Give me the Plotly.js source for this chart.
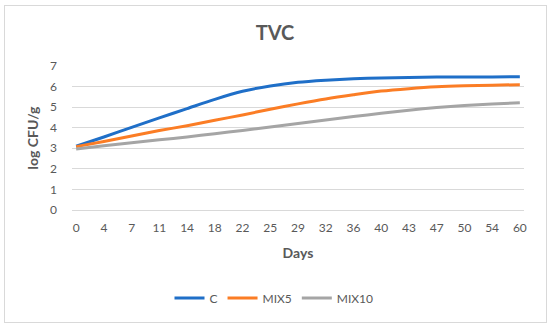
<!DOCTYPE html>
<html>
<head>
<meta charset="utf-8">
<script src="https://cdn.plot.ly/plotly-3.0.1.min.js"></script>
<style>
  html, body { margin: 0; padding: 0; background: #ffffff; }
  #wrap { position: relative; width: 550px; height: 327px; }
  #chart { position: absolute; left: 0; top: 0; width: 550px; height: 327px; }
  #frame { position: absolute; left: 4px; top: 5px; width: 541px; height: 316px; border: 1px solid #d9d9d9; pointer-events: none; }
</style>
</head>
<body>
<div id="wrap">
  <div id="chart"></div>
  <div id="frame"></div>
</div>
<script>
// Category labels (days)
const days = ["0", "4", "7", "11", "14", "18", "22", "25", "29", "32", "36", "40", "43", "47", "50", "54", "60"];

// Series values (log CFU/g)
const seriesC     = [3.10, 3.55, 4.02, 4.48, 4.93, 5.38, 5.77, 6.03, 6.21, 6.31, 6.38, 6.42, 6.44, 6.46, 6.47, 6.47, 6.48];
const seriesMIX5  = [3.08, 3.33, 3.60, 3.86, 4.10, 4.36, 4.62, 4.90, 5.16, 5.40, 5.60, 5.78, 5.90, 5.99, 6.04, 6.07, 6.09];
const seriesMIX10 = [2.97, 3.12, 3.27, 3.41, 3.55, 3.71, 3.87, 4.03, 4.20, 4.37, 4.54, 4.70, 4.85, 4.98, 5.08, 5.15, 5.21];

const seriesNames = ["C", "MIX5", "MIX10"];
const yTicks = [0, 1, 2, 3, 4, 5, 6, 7];

const FONT = "Lato, 'Open Sans', 'DejaVu Sans', sans-serif";
const TXT = "#595959";
const colors = ["#1f6fc8", "#fb7d25", "#a5a5a5"];

const allSeries = [seriesC, seriesMIX5, seriesMIX10];
const traces = allSeries.map((vals, k) => ({
  type: "scatter",
  mode: "lines",
  x: days,
  y: vals,
  name: seriesNames[k],
  line: { color: colors[k], width: 3, shape: "spline", smoothing: 0.8 },
  hoverinfo: "x+y+name"
}));

const layout = {
  width: 550,
  height: 327,
  margin: { l: 72, r: 26, t: 66, b: 117, pad: 0 },
  paper_bgcolor: "#ffffff",
  plot_bgcolor: "#ffffff",
  font: { family: FONT, size: 12, color: TXT },
  title: {
    text: "<b>TVC</b>",
    font: { family: FONT, size: 20, color: TXT },
    xref: "container", x: 0.5, xanchor: "center",
    yref: "container", y: 1 - 33 / 327, yanchor: "middle"
  },
  xaxis: {
    type: "category",
    range: [-0.15, 16.15],
    showgrid: false,
    zeroline: false,
    showline: false,
    ticks: "",
    tickfont: { family: FONT, size: 12, color: TXT },
    ticklabelstandoff: 9,
    automargin: false,
    title: { text: "<b>Days</b>", font: { family: FONT, size: 14, color: TXT }, standoff: 14 }
  },
  yaxis: {
    range: [0, 7],
    tickvals: yTicks,
    ticktext: yTicks.map(String),
    showgrid: true,
    gridcolor: "#d9d9d9",
    gridwidth: 1,
    zeroline: true,
    zerolinecolor: "#d9d9d9",
    zerolinewidth: 1,
    showline: false,
    ticks: "",
    tickfont: { family: FONT, size: 12, color: TXT },
    ticklabelstandoff: 14,
    automargin: false,
    title: { text: "<b>log CFU/g</b>", font: { family: FONT, size: 14, color: TXT }, standoff: 8 }
  },
  showlegend: true,
  legend: {
    orientation: "h",
    xref: "container", x: 274 / 550, xanchor: "center",
    yref: "container", y: 1 - 298 / 327, yanchor: "middle",
    font: { family: FONT, size: 12, color: TXT },
    bgcolor: "rgba(0,0,0,0)",
    itemclick: false,
    itemdoubleclick: false
  }
};

Plotly.newPlot("chart", traces, layout, { displayModeBar: false, staticPlot: true });
</script>
</body>
</html>
